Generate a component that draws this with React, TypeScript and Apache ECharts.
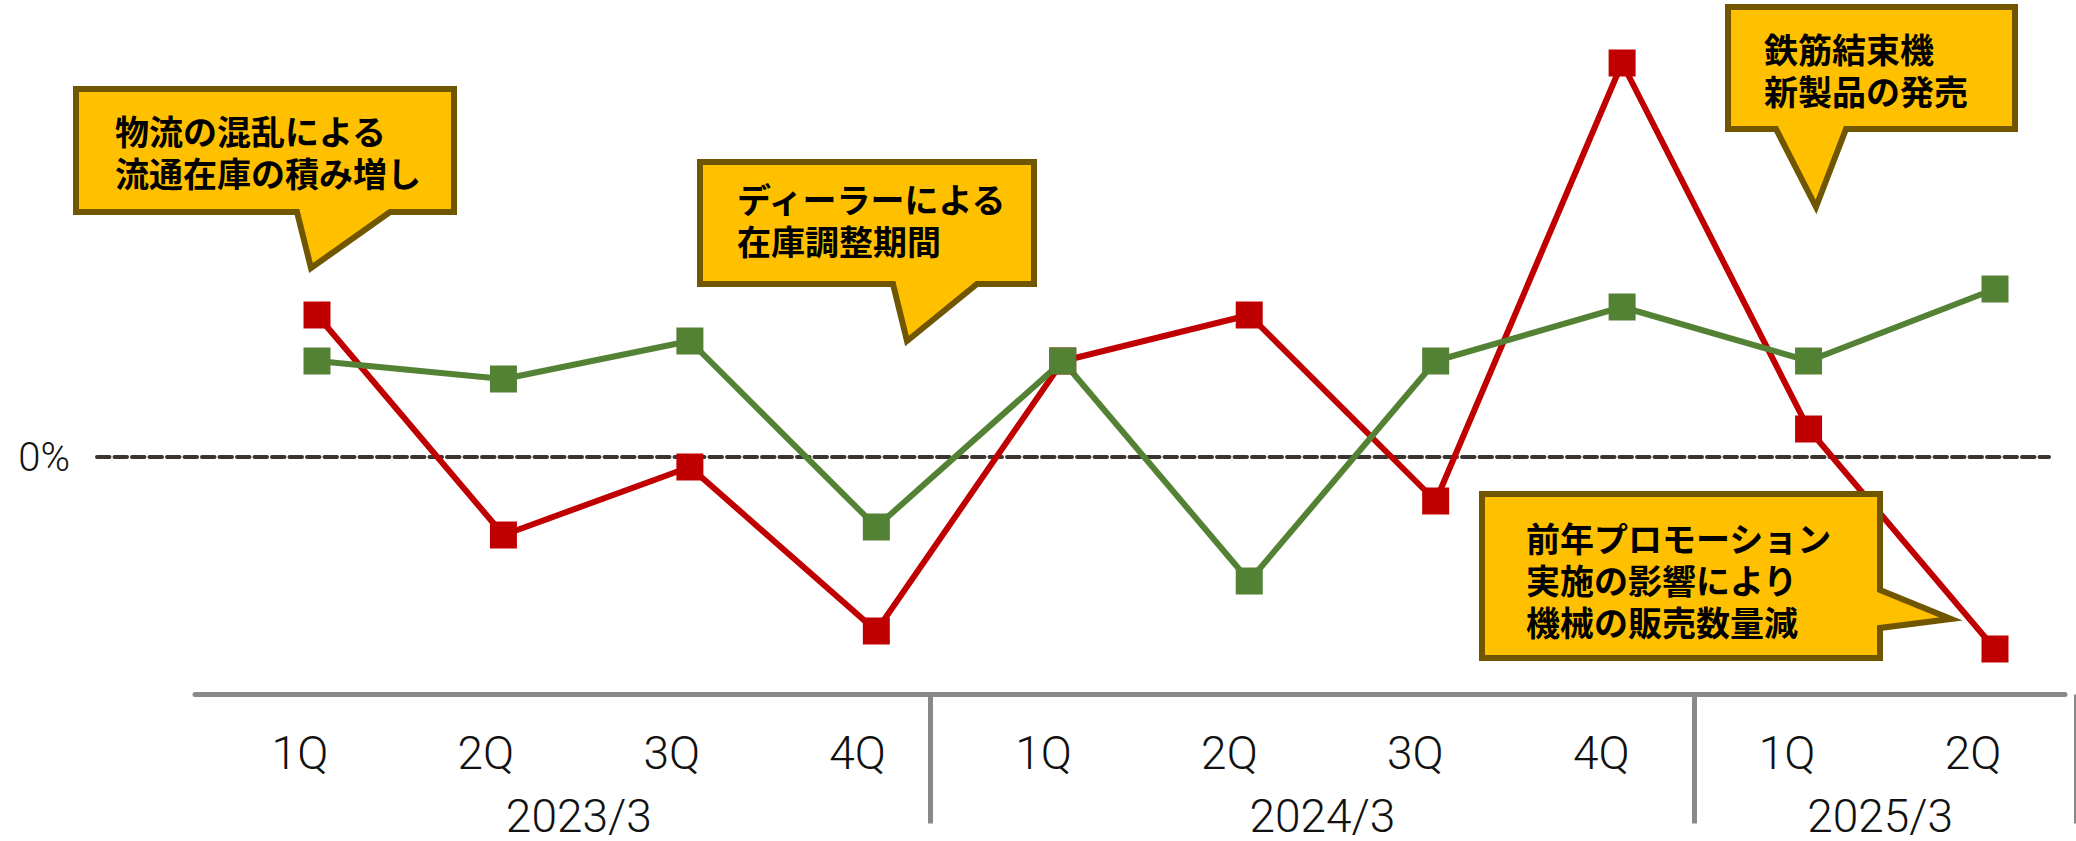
import React, { useEffect, useRef } from "react";
import * as echarts from "echarts";

// ---- data ----
const quarterLabels = ["1Q", "2Q", "3Q", "4Q", "1Q", "2Q", "3Q", "4Q", "1Q", "2Q"];
const fiscalYears = ["2023/3", "2024/3", "2025/3"];
const fiscalYearCenters = [2, 6, 9]; // centre of each fiscal-year group, in quarter units
const groupBoundaryIndex = [4, 8];
const redValues = [7.1, -3.9, -0.5, -8.7, 4.8, 7.1, -2.2, 19.7, 1.4, -9.6];
const greenValues = [4.8, 3.9, 5.8, -3.5, 4.8, -6.2, 4.8, 7.5, 4.8, 8.4];
const yMin = -10;
const yMax = 20;

const callout1Lines = ["物流の混乱による", "流通在庫の積み増し"];
const callout2Lines = ["ディーラーによる", "在庫調整期間"];
const callout3Lines = ["鉄筋結束機", "新製品の発売"];
const callout4Lines = ["前年プロモーション", "実施の影響により", "機械の販売数量減"];

const RED = "#C00000";
const GREEN = "#548235";
const GOLD = "#FFC000";
const GOLD_BORDER = "#705600";
const AXIS_GRAY = "#898989";
const CJK_FONT = '"Noto Sans CJK JP", "Noto Sans", sans-serif';
const LABEL_FONT = 'Roboto, "Noto Sans", sans-serif';

function calloutShape(points: number[][], lines: string[], tx: number, ty: number) {
  return [
    {
      type: "polygon",
      z: 100,
      shape: { points },
      style: { fill: GOLD, stroke: GOLD_BORDER, lineWidth: 6, lineJoin: "miter" },
    },
    {
      type: "text",
      z: 101,
      x: tx,
      y: ty,
      style: {
        text: lines.join("\n"),
        fill: "#000000",
        fontFamily: CJK_FONT,
        fontSize: 34,
        fontWeight: "bold",
        lineHeight: 42,
        align: "left",
        verticalAlign: "middle",
      },
    },
  ];
}

export default function App() {
  const ref = useRef<HTMLDivElement>(null);

  useEffect(() => {
    if (!ref.current) return;
    const chart = echarts.init(ref.current, null, { renderer: "svg" });

    const hiddenY = (gridIndex: number) => ({
      type: "value",
      gridIndex,
      show: false,
      min: yMin,
      max: yMax,
      splitLine: { show: false },
    });

    const option: any = {
      animation: false,
      backgroundColor: "#ffffff",
      grid: [
        // 0: data
        { left: 317, right: 81, top: 57, height: 600 },
        // 1: zero line + 0% label
        { left: 97, right: 27, top: 57, height: 600 },
        // 2: bottom axis line
        { left: 195, right: 11, top: 600, bottom: 146.5 },
        // 3: group separators
        { left: 167, width: 1912.5, top: 600, bottom: 146.5 },
        // 4: quarter labels
        { left: 207, right: 10, top: 600, bottom: 146.5 },
        // 5: fiscal year labels
        { left: 207, right: 10, top: 600, bottom: 146.5 },
      ],
      xAxis: [
        {
          type: "category",
          gridIndex: 0,
          data: quarterLabels,
          boundaryGap: false,
          show: false,
        },
        {
          type: "category",
          gridIndex: 1,
          data: quarterLabels,
          boundaryGap: false,
          axisLine: {
            show: true,
            onZero: true,
            lineStyle: { color: "#3a3430", width: 4, type: [12.5, 5] },
          },
          axisTick: { show: false },
          axisLabel: { show: false },
          splitLine: { show: false },
        },
        {
          type: "category",
          gridIndex: 2,
          data: quarterLabels,
          axisLine: { show: true, onZero: false, lineStyle: { color: AXIS_GRAY, width: 5 } },
          axisTick: { show: false },
          axisLabel: { show: false },
        },
        {
          type: "category",
          gridIndex: 3,
          data: quarterLabels,
          boundaryGap: true,
          axisLine: { show: false, onZero: false },
          axisTick: {
            show: true,
            inside: false,
            length: 129,
            interval: (index: number) => groupBoundaryIndex.indexOf(index) >= 0,
            lineStyle: { color: AXIS_GRAY, width: 5 },
          },
          axisLabel: { show: false },
        },
        {
          type: "category",
          gridIndex: 4,
          data: quarterLabels,
          boundaryGap: true,
          axisLine: { show: false, onZero: false },
          axisTick: { show: false },
          axisLabel: {
            show: true,
            interval: 0,
            margin: 35,
            color: "#111111",
            fontFamily: LABEL_FONT,
            fontWeight: 300,
            fontSize: 46,
          },
        },
        {
          type: "value",
          gridIndex: 5,
          min: 0,
          max: 10,
          interval: 1,
          axisLine: { show: false, onZero: false },
          axisTick: { show: false },
          splitLine: { show: false },
          axisLabel: {
            show: true,
            margin: 102,
            lineHeight: 38,
            color: "#111111",
            fontFamily: LABEL_FONT,
            fontWeight: 300,
            fontSize: 46,
            showMinLabel: true,
            showMaxLabel: true,
            formatter: (v: number) => {
              const i = fiscalYearCenters.indexOf(Math.round(v));
              return i >= 0 ? fiscalYears[i] : "";
            },
          },
        },
      ],
      yAxis: [
        hiddenY(0),
        {
          type: "value",
          gridIndex: 1,
          min: yMin,
          max: yMax,
          interval: 10,
          axisLine: { show: false },
          axisTick: { show: false },
          splitLine: { show: false },
          axisLabel: {
            margin: 27,
            color: "#111111",
            fontFamily: LABEL_FONT,
            fontWeight: 300,
            fontSize: 40,
            formatter: (v: number) => (v === 0 ? "0%" : ""),
          },
        },
        hiddenY(2),
        hiddenY(3),
        hiddenY(4),
        hiddenY(5),
      ],
      series: [
        {
          name: "Series A",
          type: "line",
          xAxisIndex: 0,
          yAxisIndex: 0,
          data: redValues,
          symbol: "rect",
          symbolSize: 27,
          showAllSymbol: true,
          lineStyle: { color: RED, width: 6 },
          itemStyle: { color: RED },
        },
        {
          name: "Series B",
          type: "line",
          xAxisIndex: 0,
          yAxisIndex: 0,
          data: greenValues,
          symbol: "rect",
          symbolSize: 27,
          showAllSymbol: true,
          lineStyle: { color: GREEN, width: 6 },
          itemStyle: { color: GREEN },
        },
      ],
      graphic: [
        ...calloutShape(
          [[76, 89], [454, 89], [454, 212], [390, 212], [311, 268], [297, 212], [76, 212]],
          callout1Lines, 115, 151
        ),
        ...calloutShape(
          [[700, 162], [1034, 162], [1034, 284], [977, 284], [907, 341], [893, 284], [700, 284]],
          callout2Lines, 737, 219
        ),
        ...calloutShape(
          [[1728, 7], [2015, 7], [2015, 129], [1846, 129], [1816, 207], [1776, 129], [1728, 129]],
          callout3Lines, 1764, 69
        ),
        ...calloutShape(
          [[1482, 494], [1880, 494], [1880, 590], [1951, 619], [1880, 628], [1880, 658], [1482, 658]],
          callout4Lines, 1526, 579
        ),
      ],
    };

    chart.setOption(option);
    return () => chart.dispose();
  }, []);

  return (
    <div
      ref={ref}
      style={{ position: "fixed", left: 0, top: 0, width: 2076, height: 841, background: "#fff" }}
    />
  );
}
